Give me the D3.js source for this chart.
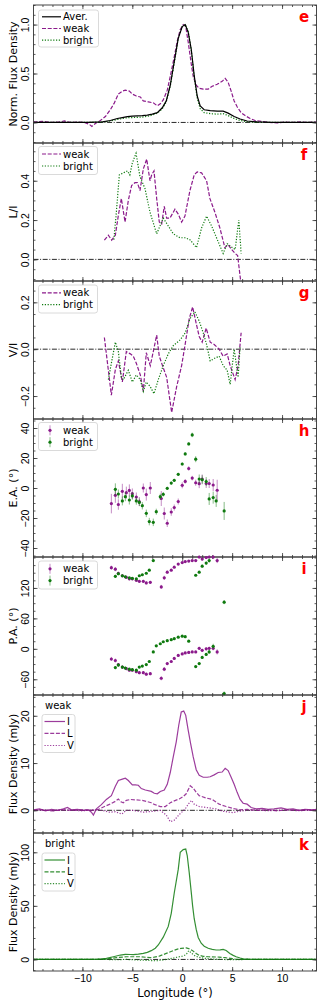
<!DOCTYPE html>
<html>
<head>
<meta charset="utf-8">
<script src="https://cdn.jsdelivr.net/npm/d3@7"></script>
<style>
body { margin: 0; background: #fff; }
svg { display: block; font-family: "DejaVu Sans", sans-serif; }
</style>
</head>
<body>
<svg id="chart" width="322" height="1005"></svg>
<script>
// ---- data (longitude in deg) ----
var norm_aver = [[-14.9,0],[-12,0],[-9.5,0],[-8,0.005],[-7.2,0.02],[-6.5,0.04],[-6,0.05],[-5.5,0.06],[-5,0.065],[-4.5,0.067],[-4,0.07],[-3.5,0.075],[-3,0.085],[-2.5,0.1],[-2,0.15],[-1.6,0.22],[-1.2,0.38],[-0.8,0.62],[-0.4,0.86],[0,0.98],[0.3,1.0],[0.6,0.92],[0.9,0.75],[1.2,0.48],[1.5,0.27],[1.8,0.17],[2.2,0.13],[2.8,0.12],[3.5,0.115],[4.1,0.115],[4.6,0.095],[5.2,0.06],[5.8,0.035],[6.5,0.015],[7.5,0.005],[9,0],[13.45,0]];
var norm_weak = [[-14.9,0.005],[-14,0.01],[-13,0],[-12.3,0.005],[-11.8,0.015],[-11.2,0],[-10.5,0.005],[-9.8,0],[-9.3,-0.02],[-9.05,-0.04],[-8.7,-0.01],[-8.2,0.02],[-7.7,0.06],[-7.2,0.13],[-6.8,0.2],[-6.4,0.29],[-6,0.32],[-5.7,0.33],[-5.3,0.32],[-5,0.29],[-4.6,0.27],[-4.2,0.26],[-3.9,0.22],[-3.4,0.21],[-2.9,0.2],[-2.5,0.17],[-2.2,0.19],[-1.9,0.23],[-1.5,0.33],[-1.2,0.47],[-0.8,0.67],[-0.5,0.83],[-0.2,0.95],[0.1,1.0],[0.35,0.98],[0.6,0.82],[0.9,0.6],[1.1,0.47],[1.4,0.38],[1.7,0.35],[2.1,0.34],[2.6,0.34],[3,0.37],[3.5,0.39],[4,0.42],[4.3,0.45],[4.6,0.41],[4.9,0.32],[5.2,0.22],[5.5,0.16],[5.9,0.1],[6.3,0.07],[6.8,0.04],[7.3,0.02],[8,0.01],[8.7,0],[9.5,-0.005],[10.3,0.005],[11,0],[11.8,0.005],[12.5,0],[13.45,0.005]];
var norm_bright = [[-14.9,0],[-12,0],[-9.5,0],[-8,0.004],[-7.2,0.015],[-6.5,0.03],[-6,0.04],[-5.5,0.048],[-5,0.05],[-4.5,0.052],[-4,0.055],[-3.5,0.062],[-3,0.075],[-2.5,0.095],[-2,0.14],[-1.6,0.21],[-1.2,0.37],[-0.8,0.61],[-0.4,0.86],[0,0.98],[0.3,1.0],[0.6,0.93],[0.9,0.74],[1.2,0.46],[1.5,0.25],[1.8,0.14],[2.2,0.1],[2.8,0.09],[3.5,0.085],[4.1,0.09],[4.6,0.07],[5.2,0.04],[5.8,0.02],[6.5,0.008],[7.5,0],[13.45,0]];

var li_weak = [[-7.8,0.098],[-7.4,0.123],[-7.07,0.098],[-6.7,0.123],[-6.4,0.224],[-6.1,0.31],[-5.73,0.19],[-5.4,0.3],[-5.07,0.376],[-4.73,0.39],[-4.5,0.39],[-4.23,0.35],[-3.9,0.46],[-3.56,0.51],[-3.23,0.4],[-3.06,0.43],[-2.83,0.45],[-2.56,0.31],[-2.3,0.19],[-2.06,0.18],[-1.8,0.27],[-1.56,0.21],[-1.23,0.21],[-0.73,0.255],[-0.4,0.23],[-0.06,0.19],[0.27,0.22],[0.77,0.35],[1.2,0.43],[1.5,0.445],[1.94,0.44],[2.44,0.4],[2.77,0.31],[3.27,0.24],[3.77,0.16],[4.27,0.06],[4.6,0.075],[4.95,0.05],[5.3,0.03],[5.55,0.02],[5.9,-0.13]];
var li_bright = [[-6.85,0.1],[-6.6,0.24],[-6.3,0.43],[-5.9,0.44],[-5.5,0.45],[-5.25,0.43],[-5.0,0.49],[-4.63,0.54],[-4.23,0.42],[-3.73,0.36],[-3.23,0.24],[-2.56,0.13],[-1.9,0.21],[-1.4,0.17],[-0.9,0.13],[-0.23,0.11],[0.27,0.11],[0.77,0.1],[1.43,0.06],[1.94,0.16],[2.44,0.22],[2.94,0.17],[3.6,0.09],[4.1,0.03],[4.5,0.08],[5.0,0.06],[5.3,0.05],[5.67,0.2],[5.9,0.03]];

var vi_weak = [[-7.8,0.05],[-7.1,-0.196],[-6.7,-0.087],[-6.4,-0.05],[-6.0,-0.14],[-5.6,-0.01],[-5.2,-0.02],[-4.9,-0.03],[-4.6,-0.06],[-4.2,-0.11],[-3.9,-0.18],[-3.6,-0.015],[-3.2,-0.07],[-2.9,-0.01],[-2.56,0.06],[-2.3,-0.03],[-1.9,-0.08],[-1.56,-0.12],[-1.06,-0.27],[-0.56,-0.16],[-0.06,-0.07],[0.27,0.015],[0.7,0.13],[1.04,0.18],[1.4,0.11],[1.7,0.054],[2.0,0.03],[2.4,0.09],[2.8,0.03],[3.2,0.02],[3.7,0],[4.1,-0.03],[4.5,-0.02],[4.8,-0.07],[5.3,-0.13],[5.6,-0.07],[5.9,0.07]];
var vi_bright = [[-7.4,-0.13],[-7.1,-0.06],[-6.7,0.03],[-6.4,-0.01],[-6.1,-0.12],[-5.9,-0.13],[-5.4,-0.09],[-5.0,-0.14],[-4.6,-0.11],[-4.2,-0.13],[-3.9,-0.18],[-3.6,-0.14],[-3.2,-0.16],[-2.83,-0.19],[-2.4,-0.13],[-1.9,-0.07],[-1.4,-0.02],[-0.9,0.015],[-0.2,0.04],[0.3,0.07],[0.77,0.13],[1.26,0.16],[1.7,0.12],[2.1,0.07],[2.44,0.02],[2.8,-0.05],[3.2,-0.04],[3.7,-0.03],[4.1,-0.07],[4.5,-0.09],[4.8,-0.15],[5.2,0],[5.6,-0.12],[5.8,0.015]];

// [lon, angle, error]
var ea_weak = [[-7.1,-10.4,6.5],[-6.7,-4.9,5],[-6.4,-11,3.5],[-6.0,-2.2,5],[-5.6,-3.1,4],[-5.3,-1.6,4],[-5.0,-3.8,3.5],[-4.6,-6,3],[-4.3,-9,3],[-3.9,0,3],[-3.6,-4.4,4],[-3.2,0,4],[-2.1,-7,5],[-1.8,-17,4],[-1.5,-23.5,2.5],[-1.1,-16,2.5],[-0.8,-13,2],[-0.4,-9,2],[0.0,1.8,2],[0.3,4.4,1.5],[0.65,13,1.5],[1.0,6.6,1.5],[1.35,3.5,2],[1.7,2.9,3],[2.0,6,3],[2.4,3,3],[2.7,3,3],[3.1,2,4],[3.5,-1.5,7]];
var ea_bright = [[-6.7,-0.9,4],[-6.4,-4,3],[-6.0,-8.6,3],[-5.7,-5.8,3],[-5.3,-8,3],[-5.0,-5.3,2.5],[-4.6,-8.6,2.5],[-4.3,-9.6,2.5],[-4.0,-11.8,2.5],[-3.6,-16.9,2.5],[-3.3,-22.4,2.5],[-2.9,-22.9,2.5],[-2.6,-15.8,2],[-2.2,-5.8,2],[-1.9,-4.2,1.5],[-1.5,-0.2,1],[-1.1,3.3,1],[-0.8,5.1,1],[-0.4,9.1,1],[0.0,16,1],[0.3,22.7,1],[0.65,29.4,1],[1.0,35.4,1.5],[1.35,19.2,2],[1.7,6,3],[2.0,5.5,3],[2.4,4.3,3],[2.7,-7.3,4],[3.1,-6.4,4],[3.4,-8.6,4],[4.2,-15.3,6]];

var pa_weak = [[-7.1,-20,4],[-6.7,-23,4],[-6.4,-31,3],[-6.0,-36,3],[-5.6,-39,3],[-5.3,-42,3],[-5.0,-42,3],[-4.6,-45,3],[-4.3,-47,3],[-3.9,-47,3],[-3.6,-50,3],[-3.2,-49,3],[-2.1,-58,4],[-1.8,-40,4],[-1.5,-29,3],[-1.1,-25,2],[-0.8,-19,2],[-0.4,-13,2],[0.0,-10,2],[0.3,-8,2],[0.65,-7,2],[1.0,-6,2],[1.35,-6,2],[1.7,1,3],[2.0,-3,3],[2.4,0,3],[2.7,1,3],[3.1,1,4],[3.5,-6,5]];
var pa_bright = [[-6.7,-37,3],[-6.4,-32,3],[-6.0,-36,3],[-5.7,-38,3],[-5.3,-40,2],[-5.0,-41,2],[-4.6,-42,2],[-4.3,-36,2],[-4.0,-34,2],[-3.6,-31,2],[-3.3,-25,2],[-2.9,-6,2],[-2.6,6,1.5],[-2.2,10,1],[-1.9,14,1],[-1.5,16,1],[-1.1,18,1],[-0.8,20,1],[-0.4,23,1],[0.0,25,1],[0.3,24,1],[0.65,15,1.5],[1.35,-35,2],[1.7,-29,2],[2.0,-17,3],[2.4,-11,3],[2.7,-6,4],[3.1,5,5],[4.2,-88,4]];

var I_weak = [[-14.9,0.1],[-14.3,0.3],[-13.7,-0.1],[-13.1,0.2],[-12.5,0],[-11.9,0.3],[-11.5,0.6],[-11.1,0.1],[-10.5,0.2],[-9.9,0],[-9.4,0.1],[-9.1,-0.4],[-8.9,-1.0],[-8.6,0.3],[-8.1,1.2],[-7.6,2.3],[-7.1,3.1],[-6.7,5.1],[-6.4,6.3],[-6.0,6.6],[-5.7,6.8],[-5.4,6.3],[-5.0,5.4],[-4.7,5.4],[-4.4,5.3],[-4.1,4.6],[-3.7,4.3],[-3.1,4.0],[-2.8,3.6],[-2.5,3.5],[-2.2,4.0],[-1.8,4.3],[-1.5,5.5],[-1.2,8.0],[-0.9,11.3],[-0.6,14.5],[-0.35,18],[-0.1,20.8],[0.15,21],[0.35,20.1],[0.6,16.9],[0.85,14],[1.1,11.3],[1.4,8.6],[1.7,7.4],[2.1,7.0],[2.5,7.0],[2.8,7.1],[3.2,7.5],[3.6,8.0],[4.0,8.1],[4.3,8.9],[4.6,8.4],[4.9,7.0],[5.2,5.5],[5.5,3.8],[5.8,2.3],[6.1,1.5],[6.5,1.3],[6.9,0.6],[7.4,0.3],[8.0,0.4],[8.6,0.2],[9.2,0.3],[9.9,0.5],[10.5,0.2],[11.1,0.3],[11.7,0],[12.3,0.2],[13.0,0.1],[13.45,0.2]];
var L_weak = [[-14.9,0],[-14,0.1],[-13,-0.1],[-12,0.1],[-11,0],[-10,0.1],[-9,0],[-8.4,0.2],[-8.0,0.6],[-7.3,1.25],[-6.7,1.9],[-6.4,2.4],[-6.15,1.8],[-5.9,1.6],[-5.6,2.1],[-5.2,2.3],[-4.6,2.2],[-4.0,2.1],[-3.6,1.9],[-3.1,1.6],[-2.8,1.25],[-2.2,0.8],[-1.7,0.8],[-1.2,1.6],[-0.8,2.0],[-0.3,2.4],[0.1,2.9],[0.4,3.5],[0.8,5.2],[1.1,4.7],[1.4,3.8],[1.7,3.1],[2.4,2.6],[3.0,2.3],[3.7,1.3],[4.4,0.8],[5.1,0.4],[5.7,0.1],[6.5,0.2],[7.5,0],[8.5,0.1],[9.5,-0.1],[10.5,0.1],[11.5,0],[12.5,0.1],[13.45,0]];
var V_weak = [[-14.9,0],[-14,0.1],[-13,-0.1],[-12,0.1],[-11,0],[-10,-0.1],[-9,0.1],[-8,0],[-7.3,-0.4],[-6.7,-0.3],[-6.05,-0.8],[-5.6,0],[-4.9,0],[-4.4,-0.2],[-3.9,-0.4],[-2.9,-0.2],[-2.2,0],[-1.6,-1.0],[-1.2,-2.4],[-0.8,-2.1],[-0.3,-0.9],[0.3,0.3],[0.6,1.3],[0.93,2.1],[1.2,1.3],[1.7,0.8],[2.4,0.6],[3.4,0.3],[4.07,-0.2],[5.1,-0.5],[5.7,-0.2],[6.5,0],[7.5,0.1],[8.5,-0.1],[9.5,0],[10.5,0.1],[11.5,-0.1],[12.5,0],[13.45,0.1]];

var I_bright = [[-14.9,0],[-12,0.1],[-10,0],[-9,0.1],[-8.5,0.2],[-8.2,0.4],[-7.6,1.0],[-6.9,2.5],[-6.2,4.1],[-5.7,4.7],[-5.2,4.6],[-4.9,4.5],[-4.4,4.9],[-3.9,5.6],[-3.5,6.6],[-3.1,8.2],[-2.7,10.5],[-2.4,13.5],[-1.9,20.8],[-1.4,30.8],[-1.1,43],[-0.8,62],[-0.4,84],[-0.2,100],[0.1,102.5],[0.35,103],[0.5,97],[0.7,81],[0.9,63],[1.04,50],[1.2,38],[1.4,28],[1.6,20.5],[1.9,15.1],[2.2,12.3],[2.6,10.4],[3.0,9.4],[3.4,8.8],[3.8,9.0],[4.1,9.4],[4.4,8.3],[4.77,5.6],[5.1,3.8],[5.4,2.5],[5.8,1.3],[6.1,0.6],[6.6,0.2],[7.1,0],[9,0.1],[11,0],[13.45,0.1]];
var L_bright = [[-14.9,0],[-10,0],[-8,0.1],[-7.6,0.3],[-7.0,1.0],[-6.6,1.6],[-5.6,2.5],[-4.2,2.5],[-3.6,2.0],[-3.2,1.7],[-2.8,2.2],[-2.3,3.1],[-1.6,5.6],[-0.9,8.2],[-0.4,9.8],[-0.1,10.4],[0.4,10.8],[0.8,9.6],[1.04,8.2],[1.4,5.5],[1.7,3.8],[2.1,2.9],[2.6,2.5],[3.7,2.2],[4.3,1.6],[4.8,1.0],[5.3,0.4],[5.7,0.1],[6.5,0],[13.45,0]];
var V_bright = [[-14.9,0],[-8,0],[-6.5,-0.2],[-5.6,0],[-4.2,-0.6],[-3.4,-0.9],[-2.6,-1.3],[-2.0,-0.6],[-1.6,0],[-1.0,1.0],[-0.6,1.9],[0.0,3.0],[0.3,4.1],[0.5,5.8],[0.65,8.2],[0.85,6.5],[1.04,5.0],[1.3,3.2],[1.7,1.9],[2.2,1.1],[2.7,0.6],[3.7,0],[5,-0.2],[7,0],[13.45,0]];

var xTicks = [-10, -5, 0, 5, 10];

// ---- layout ----
var svg = d3.select("#chart");
var margin = {left: 33.5, right: 5.5, top: 5};
var width = 322 - margin.left - margin.right;
var panelH = 138;

var purple = "#8b1a8b", green = "#0f7a0f";

var x = d3.scaleLinear().domain([-14.9, 13.45]).range([margin.left, margin.left + width]);

var line = function(y) {
    return d3.line().x(function(d) { return x(d[0]); }).y(function(d) { return y(d[1]); });
};

function minorsOf(dom, step) {
    var out = [];
    var s = Math.ceil(dom[0] / step) * step;
    for (var v = s; v <= dom[1] + 1e-9; v += step) out.push(+v.toFixed(6));
    return out;
}

function panel(idx, yDom, yTicks, yMinor, fmt, ylab, letter) {
    var top = margin.top + idx * panelH, bot = top + panelH;
    var y = d3.scaleLinear().domain(yDom).range([bot, top]);
    var g = svg.append("g");

    svg.append("clipPath").attr("id", "clip" + idx)
        .append("rect")
        .attr("x", x.range()[0]).attr("y", top)
        .attr("width", width).attr("height", panelH);
    var plot = g.append("g").attr("clip-path", "url(#clip" + idx + ")");

    var xr = x.range()[1];
    var ax = g.append("g").attr("class", "axes");

    function put(axis, tr, lab) {
        var a = ax.append("g").attr("transform", tr).call(axis);
        a.select(".domain").remove();
        a.selectAll("line").attr("stroke", "#333").attr("stroke-width", 0.8);
        if (!lab) a.selectAll("text").remove();
        return a;
    }

    var yMin = minorsOf(yDom, yMinor);
    var xMin = minorsOf(x.domain(), 1);

    var left = put(d3.axisLeft(y).tickValues(yTicks).tickSizeInner(-4).tickSizeOuter(0).tickFormat(fmt), "translate(" + margin.left + ",0)", true);
    left.selectAll("text")
        .attr("x", 0).attr("dy", 0)
        .attr("transform", "translate(-4.5,0) rotate(-90)")
        .attr("text-anchor", "middle")
        .attr("fill", "#000")
        .style("font-size", "10.5px");
    put(d3.axisLeft(y).tickValues(yMin).tickSizeInner(-2).tickSizeOuter(0), "translate(" + margin.left + ",0)");
    put(d3.axisRight(y).tickValues(yTicks).tickSizeInner(-4).tickSizeOuter(0), "translate(" + xr + ",0)");
    put(d3.axisRight(y).tickValues(yMin).tickSizeInner(-2).tickSizeOuter(0), "translate(" + xr + ",0)");
    put(d3.axisTop(x).tickValues(xTicks).tickSizeInner(-4).tickSizeOuter(0), "translate(0," + top + ")");
    put(d3.axisTop(x).tickValues(xMin).tickSizeInner(-2).tickSizeOuter(0), "translate(0," + top + ")");
    put(d3.axisBottom(x).tickValues(xMin).tickSizeInner(-2).tickSizeOuter(0), "translate(0," + bot + ")");
    var bx = put(d3.axisBottom(x).tickValues(xTicks).tickSizeInner(-4).tickSizeOuter(0).tickPadding(3.5), "translate(0," + bot + ")", idx === 6);
    bx.selectAll("text").attr("fill", "#000").style("font-size", "10.5px");

    g.append("rect")
        .attr("x", margin.left).attr("y", top)
        .attr("width", width).attr("height", panelH)
        .attr("fill", "none").attr("stroke", "#333").attr("stroke-width", 0.9);

    g.append("text")
        .attr("transform", "translate(17," + (top + panelH / 2) + ") rotate(-90)")
        .attr("text-anchor", "middle")
        .style("font-size", "11px")
        .text(ylab);

    g.append("text")
        .attr("x", 304).attr("y", top + 16.5)
        .attr("text-anchor", "middle")
        .attr("fill", "#ff0000")
        .style("font-size", "15px").style("font-weight", "bold")
        .text(letter);

    return {g: g, plot: plot, y: y, top: top};
}

function zeroLine(p) {
    p.plot.append("line")
        .attr("x1", x.range()[0]).attr("x2", x.range()[1])
        .attr("y1", p.y(0)).attr("y2", p.y(0))
        .attr("stroke", "#111").attr("stroke-width", 0.9)
        .attr("stroke-dasharray", "5,1.6,1,1.6");
}

function drawLine(p, data, color, dash, w, op) {
    p.plot.append("path")
        .datum(data)
        .attr("d", line(p.y))
        .attr("fill", "none")
        .attr("stroke", color)
        .attr("stroke-width", w || 1.2)
        .attr("stroke-opacity", op || 1)
        .attr("stroke-dasharray", dash);
}

function drawErr(p, data, color, wrap) {
    var dom = p.y.domain();
    var pts = [];
    data.forEach(function(d) {
        pts.push(d);
        if (wrap) pts.push([d[0], d[1] + 180, d[2]]);
    });
    pts = pts.filter(function(d) { return d[1] >= dom[0] - 2 && d[1] <= dom[1] + 2; });
    var gg = p.g.append("g");
    gg.selectAll(".eb").data(pts).enter().append("line")
        .attr("x1", function(d) { return x(d[0]); })
        .attr("x2", function(d) { return x(d[0]); })
        .attr("y1", function(d) { return p.y(d[1] - d[2]); })
        .attr("y2", function(d) { return p.y(d[1] + d[2]); })
        .attr("stroke", color).attr("stroke-opacity", 0.5).attr("stroke-width", 1);
    gg.selectAll(".pt").data(pts).enter().append("circle")
        .attr("cx", function(d) { return x(d[0]); })
        .attr("cy", function(d) { return p.y(d[1]); })
        .attr("r", 1.6)
        .attr("fill", color);
}

// legend: items = [{label, color, dash, kind}]
function legend(p, bx, by, bw, bh, items, rowY, lx0, lx1, tx, fs, op) {
    var lg = p.g.append("g");
    lg.append("rect")
        .attr("x", bx).attr("y", by).attr("width", bw).attr("height", bh)
        .attr("rx", 2.5)
        .attr("fill", "#fff").attr("fill-opacity", 0.8)
        .attr("stroke", "#d0d0d0").attr("stroke-width", 0.8);
    items.forEach(function(it, i) {
        var yy = rowY[i];
        if (it.kind === "err") {
            var cx = (lx0 + lx1) / 2;
            lg.append("line").attr("x1", cx).attr("x2", cx).attr("y1", yy - 5).attr("y2", yy + 5)
                .attr("stroke", it.color).attr("stroke-opacity", 0.5);
            lg.append("circle").attr("cx", cx).attr("cy", yy).attr("r", 1.6).attr("fill", it.color);
        } else {
            lg.append("line").attr("x1", lx0).attr("x2", lx1).attr("y1", yy).attr("y2", yy)
                .attr("stroke", it.color).attr("stroke-width", 1.2)
                .attr("stroke-opacity", op || 1)
                .attr("stroke-dasharray", it.dash);
        }
        lg.append("text").attr("x", tx).attr("y", yy).attr("dy", "0.35em")
            .style("font-size", fs + "px").text(it.label);
    });
}

var DASH = "4,1.7", DOT = "1.2,1.6";

// e
var pe = panel(0, [-0.21, 1.2], [0, 0.5, 1.0], 0.1, d3.format(".1f"), "Norm. Flux Density", "e");
zeroLine(pe);
drawLine(pe, norm_weak, purple, DASH);
drawLine(pe, norm_bright, green, DOT);
drawLine(pe, norm_aver, "#000", null);
legend(pe, 38.5, 10, 60, 37, [
    {label: "Aver.", color: "#000", dash: null},
    {label: "weak", color: purple, dash: DASH},
    {label: "bright", color: green, dash: DOT}
], [16.8, 28.5, 40.2], 42, 61, 63, 10);

// f
var pf = panel(1, [-0.11, 0.592], [0, 0.2, 0.4], 0.05, d3.format(".1f"), "L/I", "f");
zeroLine(pf);
drawLine(pf, li_weak, purple, DASH);
drawLine(pf, li_bright, green, DOT);
legend(pf, 38.5, 146.5, 59, 28, [
    {label: "weak", color: purple, dash: DASH},
    {label: "bright", color: green, dash: DOT}
], [154, 166], 42, 61, 63, 10);

// g
var pg = panel(2, [-0.298, 0.291], [-0.2, 0, 0.2], 0.05, d3.format(".1f"), "V/I", "g");
zeroLine(pg);
drawLine(pg, vi_weak, purple, DASH);
drawLine(pg, vi_bright, green, DOT);
legend(pg, 38.5, 285, 59, 28, [
    {label: "weak", color: purple, dash: DASH},
    {label: "bright", color: green, dash: DOT}
], [292.8, 304.6], 42, 61, 63, 10);

// h
var ph = panel(3, [-46, 46], [-40, -20, 0, 20, 40], 5, d3.format("d"), "E.A. (°)", "h");
drawErr(ph, ea_weak, purple, false);
drawErr(ph, ea_bright, green, false);
legend(ph, 38.5, 422.5, 59, 28, [
    {label: "weak", color: purple, kind: "err"},
    {label: "bright", color: green, kind: "err"}
], [430.3, 442.2], 42, 58, 63, 10);

// i
var pi = panel(4, [-91, 181], [-60, 0, 60, 120], 15, d3.format("d"), "P.A. (°)", "i");
drawErr(pi, pa_weak, purple, true);
drawErr(pi, pa_bright, green, true);
legend(pi, 38.5, 561, 59, 28, [
    {label: "weak", color: purple, kind: "err"},
    {label: "bright", color: green, kind: "err"}
], [568.8, 580.6], 42, 58, 63, 10);

// j
var pj = panel(5, [-4.8, 24.4], [0, 10, 20], 2, d3.format("d"), "Flux Density (mJy)", "j");
zeroLine(pj);
drawLine(pj, I_weak, purple, null, 1.2, 0.85);
drawLine(pj, L_weak, purple, DASH, 1.2, 0.85);
drawLine(pj, V_weak, purple, DOT, 1.2, 0.85);
pj.g.append("text").attr("x", 45).attr("y", 705).attr("dy", "0.35em").style("font-size", "10px").text("weak");
legend(pj, 42, 714.5, 33, 38, [
    {label: "I", color: purple, dash: null},
    {label: "L", color: purple, dash: DASH},
    {label: "V", color: purple, dash: DOT}
], [721.5, 733.3, 745.5], 44.5, 65, 67, 10, 0.85);

// k
var pk = panel(6, [-10.8, 118], [0, 50, 100], 10, d3.format("d"), "Flux Density (mJy)", "k");
zeroLine(pk);
drawLine(pk, I_bright, green, null, 1.2, 0.85);
drawLine(pk, L_bright, green, DASH, 1.2, 0.85);
drawLine(pk, V_bright, green, DOT, 1.2, 0.85);
pk.g.append("text").attr("x", 45).attr("y", 843.5).attr("dy", "0.35em").style("font-size", "10px").text("bright");
legend(pk, 42, 853, 33, 38, [
    {label: "I", color: green, dash: null},
    {label: "L", color: green, dash: DASH},
    {label: "V", color: green, dash: DOT}
], [860, 871.8, 883.6], 44.5, 65, 67, 10, 0.85);

svg.append("text")
    .attr("x", margin.left + width / 2).attr("y", 997)
    .attr("text-anchor", "middle")
    .style("font-size", "11.5px")
    .text("Longitude (°)");
</script>
</body>
</html>
